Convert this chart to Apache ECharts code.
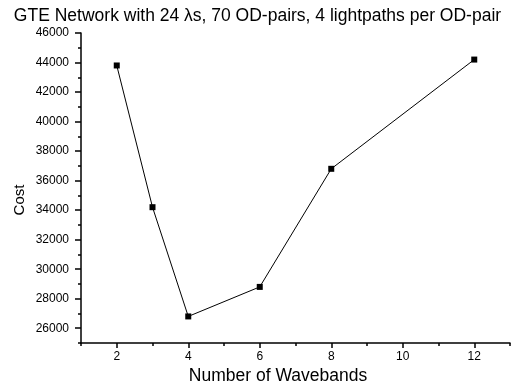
<!DOCTYPE html>
<html>
<head>
<meta charset="utf-8">
<script src="https://cdn.jsdelivr.net/npm/echarts@6/dist/echarts.min.js"></script>
<style>
  html, body { margin: 0; padding: 0; background: #fff; }
  #chart { width: 515px; height: 390px; }
</style>
</head>
<body>
<div id="chart"></div>
<script>
// data
const wavebands = [2, 3, 4, 6, 8, 12]
const cost = [43800, 34200, 26800, 28800, 36800, 44200]
const xLabels = [2, 4, 6, 8, 10, 12]
const yLabels = [26000, 28000, 30000, 32000, 34000, 36000, 38000, 40000, 42000, 44000, 46000]

const font = 'Liberation Sans, Arial, sans-serif'
const black = '#000'
const chart = echarts.init(document.getElementById('chart'))

// axis 0 carries the line and the short (minor) ticks, axis 1 the long ticks + labels
chart.setOption({
  animation: false,
  title: {
    text: 'GTE Network with 24 λs, 70 OD-pairs, 4 lightpaths per OD-pair',
    left: 'center',
    top: 2,
    textStyle: { fontFamily: font, fontSize: 17.5, fontWeight: 'normal', color: black }
  },
  grid: { left: 81, top: 33, right: 5, bottom: 41 },
  xAxis: [
    {
      type: 'value', min: 1, max: 13, interval: 1,
      name: 'Number of Wavebands',
      nameLocation: 'middle',
      nameGap: 24,
      nameTextStyle: { fontFamily: font, fontSize: 17.5, color: black, padding: [0, 35, 0, 0] },
      axisLine: { lineStyle: { color: black, width: 1.5 } },
      axisTick: { length: 3, lineStyle: { color: black, width: 1.5 } },
      axisLabel: { show: false },
      splitLine: { show: false }
    },
    {
      type: 'value', min: 1, max: 13, interval: 1,
      position: 'bottom',
      axisLine: { show: false },
      axisTick: { length: 5, customValues: xLabels, lineStyle: { color: black, width: 1.5 } },
      axisLabel: {
        customValues: xLabels, formatter: v => String(v),
        fontFamily: font, fontSize: 12, color: black, margin: 8
      },
      splitLine: { show: false }
    }
  ],
  yAxis: [
    {
      type: 'value', min: 25000, max: 46000, interval: 1000,
      name: 'Cost',
      nameLocation: 'middle',
      nameGap: 54,
      nameTextStyle: { fontFamily: font, fontSize: 15, color: black, padding: [0, 24, 0, 0] },
      axisLine: { show: true, lineStyle: { color: black, width: 1.5 } },
      axisTick: { show: true, length: 3, lineStyle: { color: black, width: 1.5 } },
      axisLabel: { show: false },
      splitLine: { show: false }
    },
    {
      type: 'value', min: 25000, max: 46000, interval: 1000,
      position: 'left',
      axisLine: { show: false },
      axisTick: { show: true, length: 6, customValues: yLabels, lineStyle: { color: black, width: 1.5 } },
      axisLabel: {
        customValues: yLabels, formatter: v => String(v),
        fontFamily: font, fontSize: 12, color: black, margin: 12
      },
      splitLine: { show: false }
    }
  ],
  series: [{
    type: 'line',
    xAxisIndex: 0,
    yAxisIndex: 0,
    data: wavebands.map((w, i) => [w, cost[i]]),
    symbol: 'rect',
    symbolSize: 6,
    lineStyle: { color: black, width: 1 },
    itemStyle: { color: black }
  }]
})
</script>
</body>
</html>
